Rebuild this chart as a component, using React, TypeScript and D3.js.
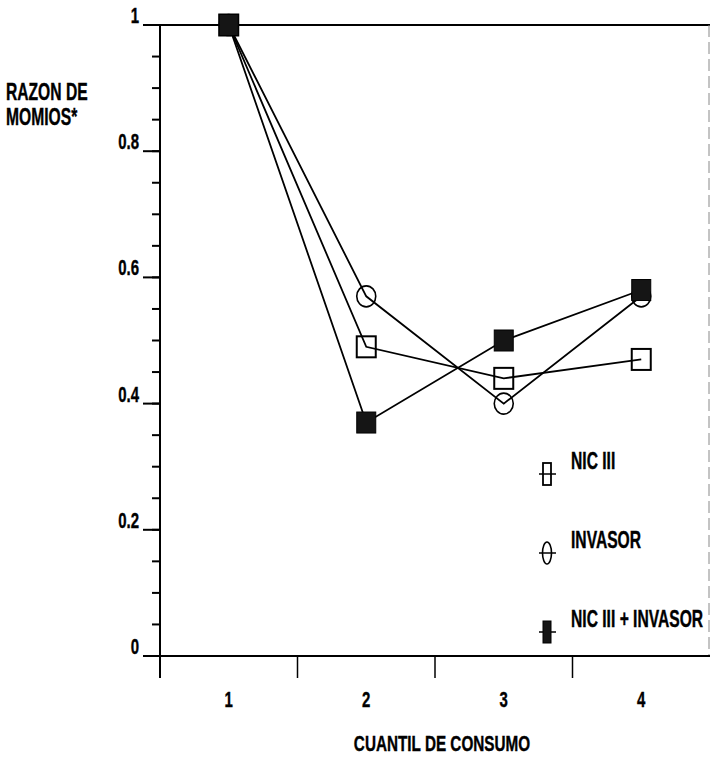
import * as d3 from "d3";
import { useEffect, useRef } from "react";

const categories = ["1", "2", "3", "4"];

const seriesNames = ["NIC III", "INVASOR", "NIC III + INVASOR"];
const nicValues = [1, 0.49, 0.44, 0.47];
const invasorValues = [1, 0.57, 0.4, 0.57];
const bothValues = [1, 0.37, 0.5, 0.58];

const yTicks = [0, 0.2, 0.4, 0.6, 0.8, 1];
const yTickLabels = ["0", "0.2", "0.4", "0.6", "0.8", "1"];
const yMinorTicks = d3.range(0, 1.0001, 0.05);

// no narrow font installed, so Liberation Sans is squeezed horizontally
const FONT = "'Liberation Sans', Arial, sans-serif";
const SQUEEZE = 0.68;

const width = 711;
const height = 757;

const addText = (
  parent: any,
  x: number,
  y: number,
  txt: string,
  anchor = "start",
  size = 23
) =>
  parent
    .append("text")
    .attr("transform", `translate(${x},${y}) scale(${SQUEEZE},1)`)
    .attr("text-anchor", anchor)
    .attr("font-family", FONT)
    .attr("font-weight", "bold")
    .attr("font-size", size)
    .attr("fill", "#000")
    .attr("stroke", "#000")
    .attr("stroke-width", 0.4)
    .text(txt);

const App = () => {
  const svgRef = useRef<SVGSVGElement>(null);

  useEffect(() => {
    const margin = { top: 25, right: 1, bottom: 101, left: 160 };
    const svg = d3.select(svgRef.current);
    svg.selectAll("*").remove();

    const xScale = d3
      .scaleBand()
      .domain(categories)
      .range([margin.left, width - margin.right]);

    const yScale = d3
      .scaleLinear()
      .domain([0, 1])
      .range([height - margin.bottom, margin.top]);

    const x0 = margin.left;
    const x1 = width - margin.right;
    const y0 = yScale(0);
    const yTop = yScale(1);

    // frame
    svg
      .append("line")
      .attr("x1", 143)
      .attr("x2", x1)
      .attr("y1", yTop)
      .attr("y2", yTop)
      .attr("stroke", "#000")
      .attr("stroke-width", 2);
    svg
      .append("line")
      .attr("x1", x1 - 1)
      .attr("x2", x1 - 1)
      .attr("y1", yTop)
      .attr("y2", y0)
      .attr("stroke", "#888")
      .attr("stroke-width", 1)
      .attr("stroke-dasharray", "12,5");
    svg
      .append("line")
      .attr("x1", 143)
      .attr("x2", x1)
      .attr("y1", y0)
      .attr("y2", y0)
      .attr("stroke", "#000")
      .attr("stroke-width", 2);
    svg
      .append("line")
      .attr("x1", x0)
      .attr("x2", x0)
      .attr("y1", yTop)
      .attr("y2", y0 + 22)
      .attr("stroke", "#000")
      .attr("stroke-width", 2);

    // y ticks
    svg
      .selectAll(".minor")
      .data(yMinorTicks)
      .enter()
      .append("line")
      .attr("x1", x0 - 8)
      .attr("x2", x0)
      .attr("y1", (d) => yScale(d))
      .attr("y2", (d) => yScale(d))
      .attr("stroke", "#000")
      .attr("stroke-width", 2);
    svg
      .selectAll(".major")
      .data(yTicks)
      .enter()
      .append("line")
      .attr("x1", 143)
      .attr("x2", x0)
      .attr("y1", (d) => yScale(d))
      .attr("y2", (d) => yScale(d))
      .attr("stroke", "#000")
      .attr("stroke-width", 2);
    yTicks.forEach((d, i) => addText(svg, 139, yScale(d) - 2, yTickLabels[i], "end", 22));

    // x ticks at band boundaries
    svg
      .selectAll(".xtick")
      .data(categories.slice(1))
      .enter()
      .append("line")
      .attr("x1", (d) => xScale(d)!)
      .attr("x2", (d) => xScale(d)!)
      .attr("y1", y0)
      .attr("y2", y0 + 22)
      .attr("stroke", "#000")
      .attr("stroke-width", 1.5);
    categories.forEach((d) =>
      addText(svg, xScale(d)! + xScale.bandwidth() / 2, 707, d, "middle", 22)
    );

    // axis titles
    addText(svg, 442, 751, "CUANTIL DE CONSUMO", "middle", 22.5);
    addText(svg, 6, 100, "RAZON DE", "start", 23);
    addText(svg, 6, 125, "MOMIOS*", "start", 23);

    const cx = (i: number) => xScale(categories[i])! + xScale.bandwidth() / 2;
    const line = d3
      .line<number>()
      .x((d, i) => cx(i))
      .y((d) => yScale(d));

    const allSeries = [nicValues, invasorValues, bothValues];
    svg
      .selectAll(".series")
      .data(allSeries)
      .enter()
      .append("path")
      .attr("d", (d) => line(d))
      .attr("fill", "none")
      .attr("stroke", "#000")
      .attr("stroke-width", 1.8);

    const mw = 19;
    const mh = 21;
    // NIC III squares
    svg
      .selectAll(".sq")
      .data(nicValues)
      .enter()
      .append("rect")
      .attr("x", (d, i) => cx(i) - mw / 2)
      .attr("y", (d) => yScale(d) - mh / 2)
      .attr("width", mw)
      .attr("height", mh)
      .attr("fill", "none")
      .attr("stroke", "#000")
      .attr("stroke-width", 2);
    // INVASOR circles
    svg
      .selectAll(".ci")
      .data(invasorValues)
      .enter()
      .append("ellipse")
      .attr("cx", (d, i) => cx(i))
      .attr("cy", (d) => yScale(d))
      .attr("rx", 9.5)
      .attr("ry", 10.5)
      .attr("fill", "none")
      .attr("stroke", "#000")
      .attr("stroke-width", 1.6);
    // NIC III + INVASOR filled squares
    svg
      .selectAll(".fs")
      .data(bothValues)
      .enter()
      .append("rect")
      .attr("x", (d, i) => cx(i) - mw / 2)
      .attr("y", (d) => yScale(d) - mh / 2)
      .attr("width", mw)
      .attr("height", mh)
      .attr("fill", "#151515")
      .attr("stroke", "#000")
      .attr("stroke-width", 1);

    // legend
    const legend = svg
      .selectAll(".legend")
      .data(seriesNames)
      .enter()
      .append("g")
      .attr("transform", (d, i) => `translate(547, ${474 + i * 79})`);
    legend
      .append("line")
      .attr("x1", -8)
      .attr("x2", 9)
      .attr("y1", 0)
      .attr("y2", 0)
      .attr("stroke", "#000")
      .attr("stroke-width", 1.5);
    legend
      .filter((d, i) => i === 0)
      .append("rect")
      .attr("x", -4)
      .attr("y", -11)
      .attr("width", 8)
      .attr("height", 22)
      .attr("fill", "none")
      .attr("stroke", "#000")
      .attr("stroke-width", 1.8);
    legend
      .filter((d, i) => i === 1)
      .append("ellipse")
      .attr("cx", 0)
      .attr("cy", 0)
      .attr("rx", 4.5)
      .attr("ry", 11)
      .attr("fill", "none")
      .attr("stroke", "#000")
      .attr("stroke-width", 1.6);
    legend
      .filter((d, i) => i === 2)
      .append("rect")
      .attr("x", -4)
      .attr("y", -11)
      .attr("width", 8)
      .attr("height", 22)
      .attr("fill", "#151515")
      .attr("stroke", "#000")
      .attr("stroke-width", 1);
    legend.each(function (d) {
      addText(d3.select(this), 24, -5, d, "start", 23);
    });
  }, []);

  return (
    <svg
      ref={svgRef}
      width={width}
      height={height}
      style={{ position: "absolute", left: 0, top: 0, background: "#fff" }}
    ></svg>
  );
};

export default App;
